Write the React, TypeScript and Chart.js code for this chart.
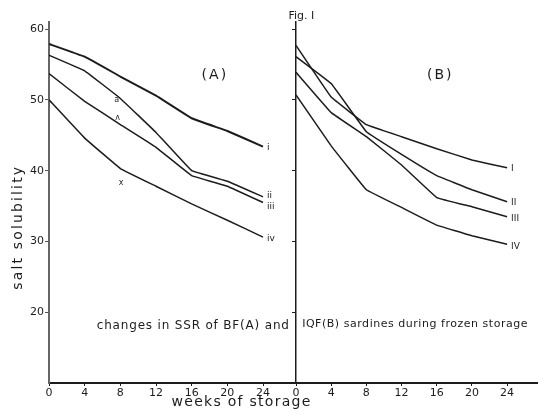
import React, { useEffect, useRef } from 'react';
import { Chart, registerables } from 'chart.js';

Chart.register(...registerables);

// ---- data ----
const weeks = [0, 4, 8, 12, 16, 20, 24];

// Panel A: BF sardines
const seriesA_i = [57.9, 56.1, 53.3, 50.6, 47.4, 45.6, 43.4];
const seriesA_ii = [56.3, 54.1, 50.2, 45.4, 40.0, 38.5, 36.3];
const seriesA_iii = [53.7, 49.8, 46.5, 43.3, 39.3, 37.8, 35.5];
const seriesA_iv = [50.0, 44.6, 40.3, 37.8, 35.3, 33.0, 30.6];
const labelsA = ['i', 'ii', 'iii', 'iv'];

// Panel B: IQF sardines
const seriesB_I = [57.7, 50.4, 46.5, 44.8, 43.1, 41.5, 40.4];
const seriesB_II = [56.1, 52.3, 45.5, 42.3, 39.3, 37.3, 35.6];
const seriesB_III = [53.9, 48.2, 44.8, 40.8, 36.2, 34.9, 33.5];
const seriesB_IV = [50.7, 43.5, 37.3, 34.8, 32.3, 30.8, 29.6];
const labelsB = ['I', 'II', 'III', 'IV'];

const yTickValues = [20, 30, 40, 50, 60];

const panelTitleA = '(A)';
const panelTitleB = '(B)';
const figLabel = 'Fig. I';
const yTitle = 'salt solubility';
const xTitle = 'weeks of storage';
const captionLeft = 'changes in SSR of BF(A) and';
const captionRight = 'IQF(B) sardines during frozen storage';

const INK = '#1c1c1c';
const FONT = '"DejaVu Sans", "Liberation Sans", sans-serif';

function toPoints(vals: number[]) {
  return weeks.map((w, i) => ({ x: w, y: vals[i] }));
}

// set font size and spread letters so the text spans the wanted width
function spreadText(ctx: any, text: string, width: number, size: number) {
  ctx.font = `${size}px ${FONT}`;
  ctx.letterSpacing = '0px';
  const w = ctx.measureText(text).width;
  const sp = Math.max(0, (width - w) / Math.max(1, text.length));
  ctx.letterSpacing = `${sp.toFixed(2)}px`;
}

const annotPlugin = {
  id: 'annot',
  afterDraw(chart: any) {
    const { ctx, chartArea, scales } = chart;
    const xA = scales.xA;
    const xB = scales.xB;
    const y = scales.y;
    ctx.save();
    ctx.fillStyle = INK;
    ctx.textBaseline = 'middle';

    // series end labels
    const nudge = [0, -2, 3, 0, 0, 0, 1, 1];
    chart.data.datasets.forEach((ds: any, i: number) => {
      const meta = chart.getDatasetMeta(i);
      const last = meta.data[meta.data.length - 1];
      ctx.font = `9px ${FONT}`;
      ctx.textAlign = 'left';
      ctx.fillText(ds.label, last.x + 4, last.y + 1 + nudge[i]);
    });

    // panel titles
    ctx.font = `14px ${FONT}`;
    ctx.letterSpacing = '2px';
    ctx.textAlign = 'center';
    ctx.fillText(panelTitleA, xA.getPixelForValue(18.6), y.getPixelForValue(53.4));
    ctx.fillText(panelTitleB, xB.getPixelForValue(16.4), y.getPixelForValue(53.5));
    ctx.letterSpacing = '0px';

    // figure label
    ctx.font = `11px ${FONT}`;
    ctx.textAlign = 'center';
    ctx.fillText(figLabel, xB.getPixelForValue(0.6), chartArea.top - 6);

    // small in-plot marks
    ctx.font = `8px ${FONT}`;
    ctx.fillText('a', xA.getPixelForValue(7.6), y.getPixelForValue(50.0));
    ctx.fillText('ʌ', xA.getPixelForValue(7.7), y.getPixelForValue(47.5));
    ctx.fillText('x', xA.getPixelForValue(8.1), y.getPixelForValue(38.2));

    // caption
    ctx.textAlign = 'right';
    spreadText(ctx, captionLeft, 193, 12);
    ctx.fillText(captionLeft, xA.getPixelForValue(27.0), y.getPixelForValue(18.0));
    ctx.textAlign = 'left';
    spreadText(ctx, captionRight, 226, 11);
    ctx.fillText(captionRight, xB.getPixelForValue(0.7), y.getPixelForValue(18.3));

    // x title
    ctx.textAlign = 'center';
    spreadText(ctx, xTitle, 140, 14);
    ctx.fillText(xTitle, xA.getPixelForValue(21.6), chartArea.bottom + 19);

    // y title
    ctx.save();
    spreadText(ctx, yTitle, 125, 14);
    ctx.translate(chartArea.left - 31, y.getPixelForValue(32.0));
    ctx.rotate(-Math.PI / 2);
    ctx.textAlign = 'center';
    ctx.fillText(yTitle, 0, 0);
    ctx.restore();

    ctx.letterSpacing = '0px';
    ctx.restore();
  },
};

export default function App() {
  const ref = useRef<HTMLCanvasElement | null>(null);

  useEffect(() => {
    if (!ref.current) return;
    const lineStyle = {
      borderColor: INK,
      borderWidth: 1.5,
      pointRadius: 0,
      fill: false,
      tension: 0.05,
    };
    const chart = new Chart(ref.current, {
      type: 'line',
      data: {
        datasets: [
          { label: labelsA[0], data: toPoints(seriesA_i), xAxisID: 'xA', yAxisID: 'y', ...lineStyle, borderWidth: 2 },
          { label: labelsA[1], data: toPoints(seriesA_ii), xAxisID: 'xA', yAxisID: 'y', ...lineStyle },
          { label: labelsA[2], data: toPoints(seriesA_iii), xAxisID: 'xA', yAxisID: 'y', ...lineStyle },
          { label: labelsA[3], data: toPoints(seriesA_iv), xAxisID: 'xA', yAxisID: 'y', ...lineStyle },
          { label: labelsB[0], data: toPoints(seriesB_I), xAxisID: 'xB', yAxisID: 'y', ...lineStyle },
          { label: labelsB[1], data: toPoints(seriesB_II), xAxisID: 'xB', yAxisID: 'y', ...lineStyle },
          { label: labelsB[2], data: toPoints(seriesB_III), xAxisID: 'xB', yAxisID: 'y', ...lineStyle },
          { label: labelsB[3], data: toPoints(seriesB_IV), xAxisID: 'xB', yAxisID: 'y', ...lineStyle },
        ],
      },
      options: {
        animation: false,
        responsive: false,
        maintainAspectRatio: false,
        layout: { padding: { top: 22, right: 15, left: 0, bottom: 0 } },
        plugins: {
          legend: { display: false },
          tooltip: { enabled: false },
          title: { display: false },
        },
        scales: {
          xA: {
            type: 'linear',
            axis: 'x',
            position: 'bottom',
            stack: 'x',
            stackWeight: 247,
            min: 0,
            max: 27.7,
            ticks: {
              stepSize: 4,
              includeBounds: false,
              padding: 1,
              color: INK,
              maxRotation: 0,
              autoSkip: false,
              font: { size: 11, family: FONT },
            },
            grid: { drawOnChartArea: false, tickLength: 3, color: INK },
            border: { color: INK, width: 2 },
            afterFit: (s: any) => { s.height = 32; },
          },
          xB: {
            type: 'linear',
            axis: 'x',
            position: 'bottom',
            stack: 'x',
            stackWeight: 241,
            min: 0,
            max: 27.4,
            ticks: {
              stepSize: 4,
              includeBounds: false,
              padding: 1,
              color: INK,
              maxRotation: 0,
              autoSkip: false,
              font: { size: 11, family: FONT },
            },
            grid: { drawOnChartArea: false, tickLength: 3, color: INK },
            border: { color: INK, width: 2 },
            afterFit: (s: any) => { s.height = 32; },
          },
          y: {
            type: 'linear',
            axis: 'y',
            position: 'left',
            min: 10,
            max: 61,
            afterBuildTicks: (s: any) => {
              s.ticks = yTickValues.map((v) => ({ value: v }));
            },
            ticks: {
              padding: 1,
              color: INK,
              font: { size: 11, family: FONT },
            },
            grid: { drawOnChartArea: false, tickLength: 4, color: '#555' },
            border: { color: '#666', width: 2 },
            afterFit: (s: any) => { s.width = 49; },
          },
          yB: {
            type: 'linear',
            axis: 'y',
            position: { xB: 0 },
            min: 10,
            max: 61,
            afterBuildTicks: (s: any) => {
              s.ticks = yTickValues.map((v) => ({ value: v }));
            },
            ticks: { display: false },
            grid: { drawOnChartArea: false, tickLength: 3, color: INK },
            border: { color: INK, width: 1.5 },
          },
        },
      } as any,
      plugins: [annotPlugin],
    });
    return () => chart.destroy();
  }, []);

  return (
    <div style={{ position: 'absolute', left: 0, top: 0, width: 552, height: 415, background: '#fff' }}>
      <canvas ref={ref} width={552} height={415} style={{ display: 'block' }} />
    </div>
  );
}
